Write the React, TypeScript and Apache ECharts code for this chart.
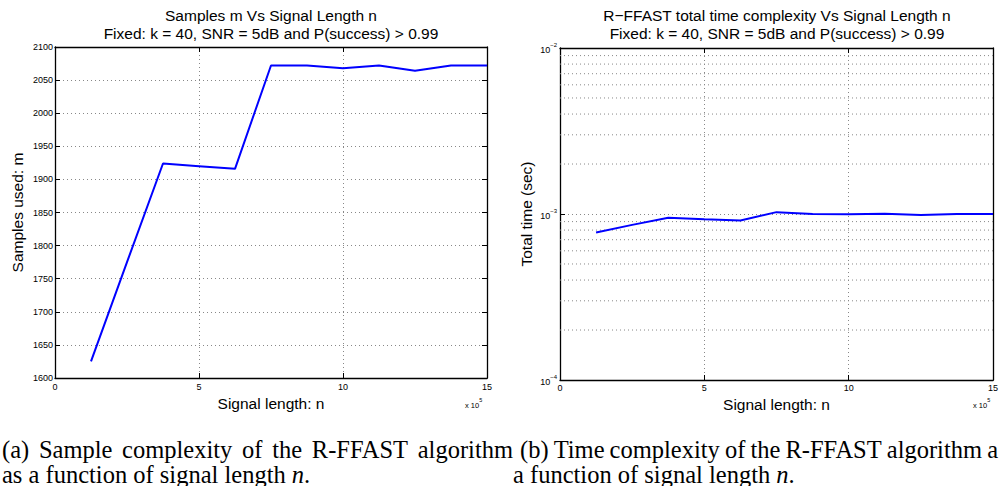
import React, { useEffect, useRef } from "react";
import * as echarts from "echarts";

// ---- data ----
const N_VALUES = [125000, 250000, 375000, 500000, 625000, 750000, 875000, 1000000, 1125000, 1250000, 1375000, 1500000];
const SAMPLES_USED = [1625, 1775, 1924, 1920, 1916, 2072, 2072, 2068, 2072, 2064, 2072, 2072];
const TOTAL_TIME = [7.74e-4, 8.6e-4, 9.5e-4, 9.3e-4, 9.14e-4, 1.026e-3, 1.0e-3, 9.95e-4, 1.005e-3, 9.85e-4, 1.0e-3, 1.0e-3];
const LOG_MINOR_GRID = [2e-4, 3e-4, 4e-4, 5e-4, 6e-4, 7e-4, 8e-4, 9e-4, 2e-3, 3e-3, 4e-3, 5e-3, 6e-3, 7e-3, 8e-3, 9e-3];

const TITLE_A = ["Samples m Vs Signal Length n", "Fixed: k = 40, SNR = 5dB and P(success) > 0.99"];
const TITLE_B = ["R\u2212FFAST total time complexity Vs Signal Length n", "Fixed: k = 40, SNR = 5dB and P(success) > 0.99"];
const X_NAME = "Signal length: n";
const Y_NAME_A = "Samples used: m";
const Y_NAME_B = "Total time (sec)";
const CAPTION_A = ["(a) Sample complexity of the R-FFAST algorithm", "as a function of signal length "];
const CAPTION_B = ["(b) Time complexity of the R-FFAST algorithm a", "a function of signal length "];

const SANS = "Liberation Sans";
const SERIF = "Liberation Serif";
const CAP_SIZE = 24.5;

function measure(words: string[], font: string): number[] {
  const ctx = document.createElement("canvas").getContext("2d")!;
  ctx.font = font;
  return words.map((w) => ctx.measureText(w).width);
}

function justified(line: string, x0: number, width: number, y: number): any[] {
  const words = line.split(" ");
  const ws = measure(words, `${CAP_SIZE}px "${SERIF}"`);
  const total = ws.reduce((a, b) => a + b, 0);
  const gap = Math.max(3, (width - total) / (words.length - 1));
  let x = x0;
  return words.map((w, i) => {
    const el = {
      type: "text",
      x,
      y,
      silent: true,
      style: { text: w, fontSize: CAP_SIZE, fontFamily: SERIF, fill: "#000", align: "left", verticalAlign: "middle" },
    };
    x += ws[i] + gap;
    return el;
  });
}

function plainLine(text: string, x: number, y: number, italicN: boolean): any {
  return {
    type: "text",
    x,
    y,
    silent: true,
    style: {
      text: italicN ? text + "{i|n}." : text,
      fontSize: CAP_SIZE,
      fontFamily: SERIF,
      fill: "#000",
      align: "left",
      verticalAlign: "middle",
      rich: { i: { fontSize: CAP_SIZE, fontFamily: SERIF, fontStyle: "italic", fill: "#000" } },
    },
  };
}

function titleText(text: string, x: number, y: number): any {
  return {
    type: "text",
    x,
    y,
    silent: true,
    style: { text, fontSize: 15.5, fontFamily: SANS, fill: "#000", align: "center", verticalAlign: "middle" },
  };
}

function expLabel(x: number, y: number): any {
  return {
    type: "text",
    x,
    y,
    silent: true,
    style: {
      text: "{b|x 10}{s|5}",
      fontFamily: SANS,
      fill: "#000",
      align: "left",
      verticalAlign: "middle",
      rich: {
        b: { fontSize: 7.5, fontFamily: SANS, lineHeight: 12, verticalAlign: "bottom", fill: "#000" },
        s: { fontSize: 5.5, fontFamily: SANS, lineHeight: 12, verticalAlign: "top", fill: "#000" },
      },
    },
  };
}

export default function App() {
  const ref = useRef<HTMLDivElement>(null);

  useEffect(() => {
    if (!ref.current) return;
    const chart = echarts.init(ref.current, null, { renderer: "svg" });

    const GRID_COLOR = "#888";
    const axisLine = { show: true, onZero: false, lineStyle: { color: "#000", width: 1.3 } };
    const tick = { show: true, inside: true, length: 5, lineStyle: { color: "#000", width: 1 } };
    const dotted = { show: true, lineStyle: { color: GRID_COLOR, width: 1, type: [1, 3] } };
    const noLabel = { show: false };
    const noSplit = { show: false };
    const nameStyle = { fontSize: 15.5, color: "#000", fontFamily: SANS };
    const tickLabel = { fontSize: 9, color: "#000", fontFamily: SANS };

    const X_MIN = 0;
    const X_MAX = 1500000;
    const xCommon = { type: "value", min: X_MIN, max: X_MAX, interval: 500000, axisLine, axisTick: tick };

    const minorGridSeries = LOG_MINOR_GRID.map((v) => ({
      type: "line",
      xAxisIndex: 2,
      yAxisIndex: 2,
      data: [
        [X_MIN, v],
        [X_MAX, v],
      ],
      symbol: "none",
      showSymbol: false,
      silent: true,
      lineStyle: { color: GRID_COLOR, width: 1, type: [1, 3] },
      itemStyle: { color: GRID_COLOR },
      emphasis: { disabled: true },
      tooltip: { show: false },
      z: 1,
    }));

    const option: any = {
      animation: false,
      backgroundColor: "#fff",
      grid: [
        { left: 55, top: 47, width: 432, height: 331, containLabel: false },
        { left: 560, top: 48, width: 433, height: 332, containLabel: false },
      ],
      xAxis: [
        {
          ...xCommon,
          gridIndex: 0,
          position: "bottom",
          splitLine: dotted,
          axisLabel: { ...tickLabel, margin: 4, formatter: (v: number) => String(v / 1e5) },
          name: X_NAME,
          nameLocation: "middle",
          nameGap: 14,
          nameTextStyle: nameStyle,
        },
        { ...xCommon, gridIndex: 0, position: "top", axisLabel: noLabel, splitLine: noSplit },
        {
          ...xCommon,
          gridIndex: 1,
          position: "bottom",
          splitLine: dotted,
          axisLabel: { ...tickLabel, margin: 3, formatter: (v: number) => String(v / 1e5) },
          name: X_NAME,
          nameLocation: "middle",
          nameGap: 10,
          nameTextStyle: nameStyle,
        },
        { ...xCommon, gridIndex: 1, position: "top", axisLabel: noLabel, splitLine: noSplit },
      ],
      yAxis: [
        {
          type: "value",
          gridIndex: 0,
          position: "left",
          min: 1600,
          max: 2100,
          interval: 50,
          axisLine,
          axisTick: tick,
          splitLine: dotted,
          axisLabel: { ...tickLabel, margin: 2, formatter: (v: number) => String(v) },
          name: Y_NAME_A,
          nameLocation: "middle",
          nameGap: 30,
          nameTextStyle: nameStyle,
        },
        {
          type: "value",
          gridIndex: 0,
          position: "right",
          min: 1600,
          max: 2100,
          interval: 50,
          axisLine,
          axisTick: tick,
          splitLine: noSplit,
          axisLabel: noLabel,
        },
        {
          type: "log",
          logBase: 10,
          gridIndex: 1,
          position: "left",
          min: 1e-4,
          max: 1e-2,
          axisLine,
          axisTick: tick,
          splitLine: dotted,
          axisLabel: {
            margin: 3,
            formatter: (v: number) => {
              const e = Math.round(Math.log10(v));
              return "{b|10}{s|" + (e < 0 ? "\u2212" + -e : String(e)) + "}";
            },
            rich: {
              b: { fontSize: 9, fontFamily: SANS, color: "#000", lineHeight: 13, verticalAlign: "bottom" },
              s: { fontSize: 6, fontFamily: SANS, color: "#000", lineHeight: 13, verticalAlign: "top" },
            },
          },
          name: Y_NAME_B,
          nameLocation: "middle",
          nameGap: 26,
          nameTextStyle: nameStyle,
        },
        {
          type: "log",
          logBase: 10,
          gridIndex: 1,
          position: "right",
          min: 1e-4,
          max: 1e-2,
          axisLine,
          axisTick: tick,
          splitLine: noSplit,
          axisLabel: noLabel,
        },
      ],
      series: [
        ...minorGridSeries,
        {
          type: "line",
          xAxisIndex: 0,
          yAxisIndex: 0,
          data: N_VALUES.map((n, i) => [n, SAMPLES_USED[i]]),
          symbol: "none",
          showSymbol: false,
          lineStyle: { color: "#0000ff", width: 2 },
          itemStyle: { color: "#0000ff" },
          z: 5,
        },
        {
          type: "line",
          xAxisIndex: 2,
          yAxisIndex: 2,
          data: N_VALUES.map((n, i) => [n, TOTAL_TIME[i]]),
          symbol: "none",
          showSymbol: false,
          lineStyle: { color: "#0000ff", width: 2 },
          itemStyle: { color: "#0000ff" },
          z: 5,
        },
      ],
      graphic: [
        titleText(TITLE_A[0], 271, 15),
        titleText(TITLE_A[1], 271, 33),
        titleText(TITLE_B[0], 777, 15),
        titleText(TITLE_B[1], 777, 33),
        expLabel(465, 403),
        expLabel(973, 403),
        ...justified(CAPTION_A[0], 2, 511, 449),
        plainLine(CAPTION_A[1], 2, 474, true),
        ...justified(CAPTION_B[0], 520, 478, 449),
        plainLine(CAPTION_B[1], 513, 474, true),
      ],
    };

    chart.setOption(option);
    return () => chart.dispose();
  }, []);

  return (
    <div
      ref={ref}
      style={{ position: "fixed", left: 0, top: 0, width: 1002, height: 486, background: "#fff", overflow: "hidden" }}
    />
  );
}
